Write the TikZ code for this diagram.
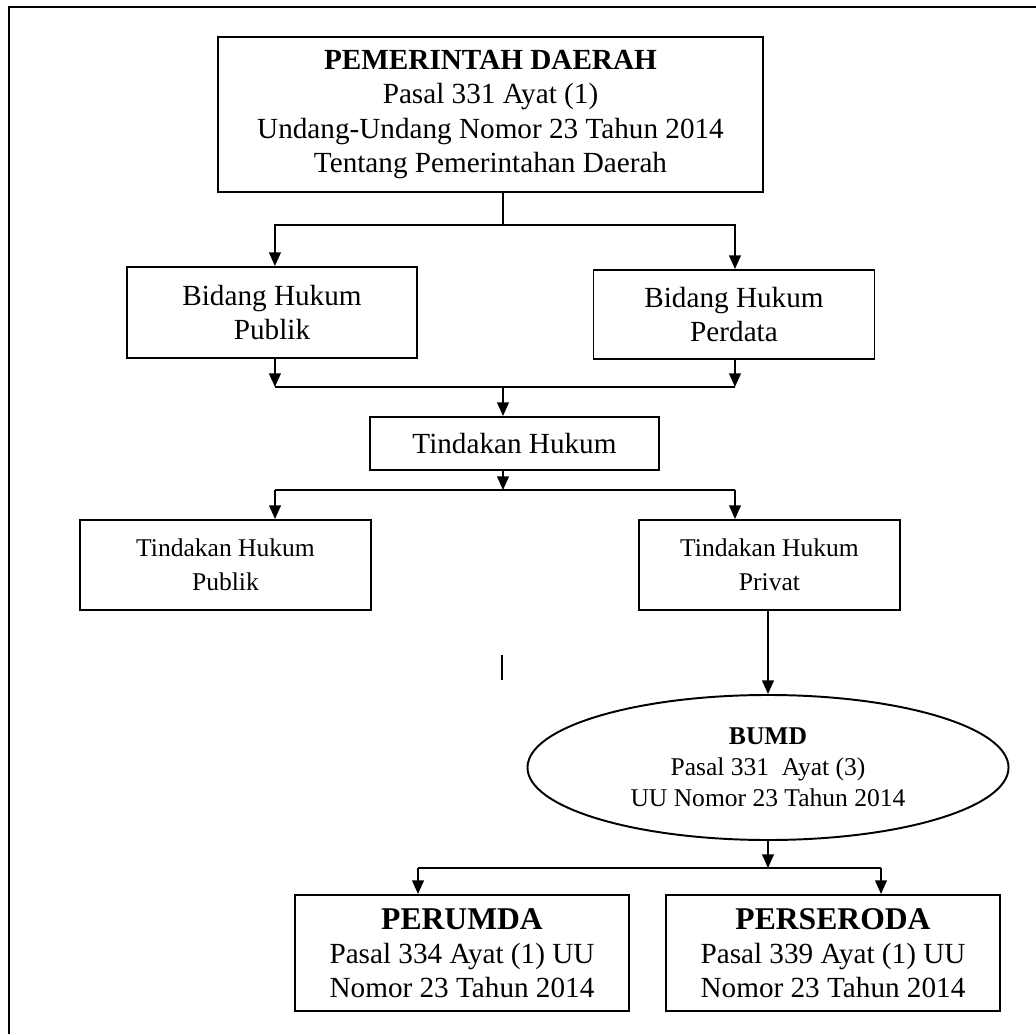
\documentclass[tikz,border=0pt]{standalone}
\usepackage{fontspec}
\setmainfont{Liberation Serif}
\usetikzlibrary{arrows.meta, shapes.geometric}

\begin{document}
\begin{tikzpicture}[
        x=0.411pt, y=-0.411pt,
        box/.style={rectangle, draw, line width=0.8pt, align=center, inner sep=2pt,
            font=\fontsize{12}{14}\selectfont},
        smallbox/.style={box, font=\fontsize{10.5}{14}\selectfont},
        oval/.style={ellipse, draw, line width=0.8pt, align=center, inner sep=0pt,
            font=\fontsize{10.5}{12.7}\selectfont},
        arc/.style={-{Triangle[length=5.6pt, width=4.8pt]}, line width=0.8pt},
        link/.style={line width=0.8pt}
        ]
        \useasboundingbox (0,0) rectangle (1036,1034);
        % page frame
        \draw[line width=1pt] (9,1100) |- (1100,7);

        % pemerintah daerah
        \node[box, minimum width=224pt, minimum height=63.7pt] (pemda) at (490.5,114.5)
            {\textbf{PEMERINTAH DAERAH}\\ Pasal 331 Ayat (1)\\ Undang-Undang Nomor 23 Tahun 2014\\ Tentang Pemerintahan Daerah};

        % bidang hukum
        \node[box, minimum width=119.2pt, minimum height=37.4pt] (bpub) at (272,312.5) {Bidang Hukum\\ Publik};
        \node[box, minimum width=115.5pt, minimum height=36.6pt] (bper) at (734,314.5) {Bidang Hukum\\ Perdata};

        % tindakan hukum
        \node[box, minimum width=118.8pt, minimum height=21.8pt] (tind) at (514.5,443.5) {Tindakan Hukum};
        \node[smallbox, minimum width=119.6pt, minimum height=37pt] (tpub) at (225.5,565) {Tindakan Hukum\\ Publik};
        \node[smallbox, minimum width=107.3pt, minimum height=37pt] (tpriv) at (769.5,565) {Tindakan Hukum\\ Privat};

        % bumd
        \node[oval, minimum width=197.7pt, minimum height=59.6pt] (bumd) at (768,767.5)
            {\textbf{BUMD}\\ Pasal 331~ Ayat (3)\\ UU Nomor 23 Tahun 2014};

        \node[box, minimum width=137.3pt, minimum height=47.7pt] (perumda) at (462,953)
            {{\fontsize{13}{14}\selectfont\textbf{PERUMDA}}\\ Pasal 334 Ayat (1) UU\\ Nomor 23 Tahun 2014};
        \node[box, minimum width=137.3pt, minimum height=47.7pt] (persero) at (833,953)
            {{\fontsize{13}{14}\selectfont\textbf{PERSERODA}}\\ Pasal 339 Ayat (1) UU\\ Nomor 23 Tahun 2014};

        % junctions
        \coordinate (j1) at (503,225);
        \coordinate (j2) at (503,387);
        \coordinate (j3) at (503,490);
        \coordinate (k3) at (275,490);
        \coordinate (m3) at (735,490);
        \coordinate (j5) at (768,868);
        \coordinate (k5) at (418,868);
        \coordinate (m5) at (881,868);

        \draw[link] (pemda.south -| j1) -- (j1);
        \draw[arc] (j1) -| ([xshift=1.2pt]bpub.north);
        \draw[arc] (j1) -| ([xshift=0.4pt]bper.north);

        \draw[arc] ([xshift=1.2pt]bpub.south) -- ([xshift=1.2pt]bpub.south |- j2);
        \draw[arc] ([xshift=0.4pt]bper.south) -- ([xshift=0.4pt]bper.south |- j2);
        \draw[link] ([xshift=1.2pt]bpub.south |- j2) -- ([xshift=0.4pt]bper.south |- j2);
        \draw[arc] (j2) -- (j2 |- tind.north);

        \draw[arc] (tind.south -| j3) -- (j3);
        \draw[link] (k3) -- (m3);
        \draw[arc] (k3) -- (k3 |- tpub.north);
        \draw[arc] (m3) -- (m3 |- tpriv.north);

        \draw[arc] (tpriv.south -| bumd.north) -- (bumd.north);
        \draw[link] (502,655) -- (502,680);

        \draw[arc] (bumd.south) -- (j5);
        \draw[link] (k5) -- (m5);
        \draw[arc] (k5) -- (k5 |- perumda.north);
        \draw[arc] (m5) -- (m5 |- persero.north);
\end{tikzpicture}
\end{document}
